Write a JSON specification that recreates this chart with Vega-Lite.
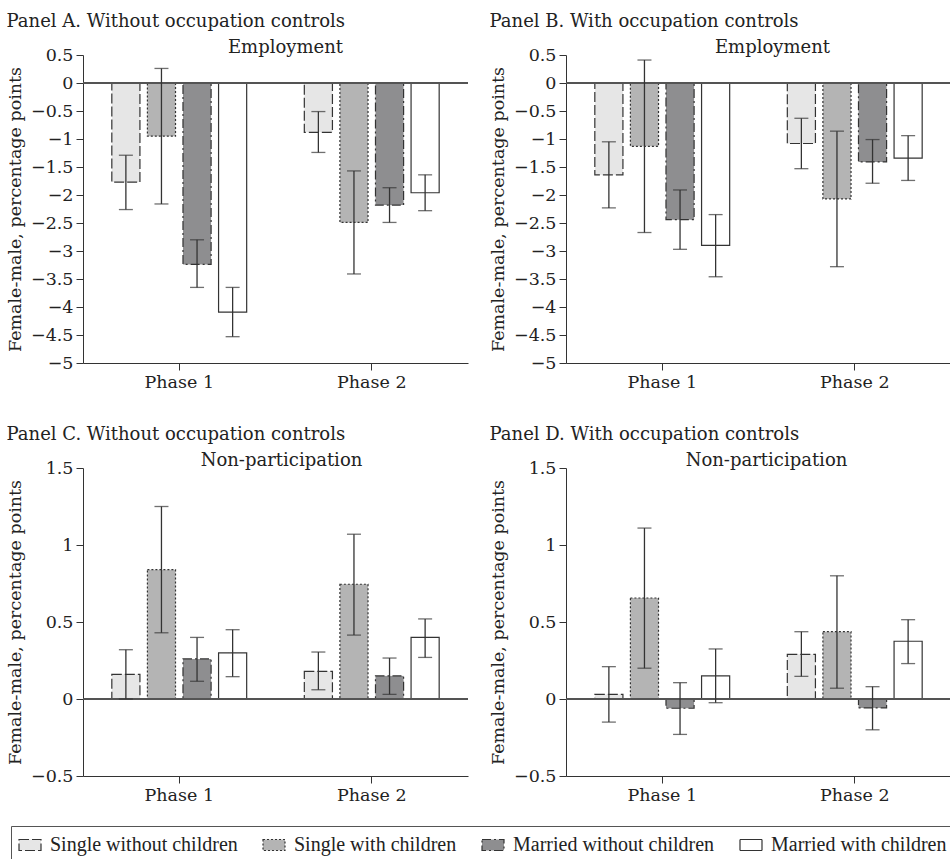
{
  "$schema": "https://vega.github.io/schema/vega-lite/v6.json",
  "padding": {"left": 6, "top": 13, "right": 0, "bottom": 0},
  "background": "white",
  "datasets": {
    "d": [
      {"panel": "A", "phase": "Phase 1", "group": "Single without children", "value": -1.77, "lo": -2.26, "hi": -1.29},
      {"panel": "A", "phase": "Phase 1", "group": "Single with children", "value": -0.95, "lo": -2.16, "hi": 0.26},
      {"panel": "A", "phase": "Phase 1", "group": "Married without children", "value": -3.24, "lo": -3.65, "hi": -2.8},
      {"panel": "A", "phase": "Phase 1", "group": "Married with children", "value": -4.09, "lo": -4.53, "hi": -3.65},
      {"panel": "A", "phase": "Phase 2", "group": "Single without children", "value": -0.88, "lo": -1.24, "hi": -0.51},
      {"panel": "A", "phase": "Phase 2", "group": "Single with children", "value": -2.49, "lo": -3.41, "hi": -1.57},
      {"panel": "A", "phase": "Phase 2", "group": "Married without children", "value": -2.18, "lo": -2.49, "hi": -1.87},
      {"panel": "A", "phase": "Phase 2", "group": "Married with children", "value": -1.96, "lo": -2.28, "hi": -1.64},
      {"panel": "B", "phase": "Phase 1", "group": "Single without children", "value": -1.64, "lo": -2.23, "hi": -1.05},
      {"panel": "B", "phase": "Phase 1", "group": "Single with children", "value": -1.13, "lo": -2.67, "hi": 0.41},
      {"panel": "B", "phase": "Phase 1", "group": "Married without children", "value": -2.44, "lo": -2.97, "hi": -1.91},
      {"panel": "B", "phase": "Phase 1", "group": "Married with children", "value": -2.9, "lo": -3.46, "hi": -2.35},
      {"panel": "B", "phase": "Phase 2", "group": "Single without children", "value": -1.08, "lo": -1.53, "hi": -0.63},
      {"panel": "B", "phase": "Phase 2", "group": "Single with children", "value": -2.07, "lo": -3.28, "hi": -0.86},
      {"panel": "B", "phase": "Phase 2", "group": "Married without children", "value": -1.41, "lo": -1.79, "hi": -1.01},
      {"panel": "B", "phase": "Phase 2", "group": "Married with children", "value": -1.34, "lo": -1.74, "hi": -0.94},
      {"panel": "C", "phase": "Phase 1", "group": "Single without children", "value": 0.16, "lo": 0.0, "hi": 0.32},
      {"panel": "C", "phase": "Phase 1", "group": "Single with children", "value": 0.84, "lo": 0.43, "hi": 1.25},
      {"panel": "C", "phase": "Phase 1", "group": "Married without children", "value": 0.26, "lo": 0.115, "hi": 0.4},
      {"panel": "C", "phase": "Phase 1", "group": "Married with children", "value": 0.3, "lo": 0.145, "hi": 0.45},
      {"panel": "C", "phase": "Phase 2", "group": "Single without children", "value": 0.18, "lo": 0.06, "hi": 0.305},
      {"panel": "C", "phase": "Phase 2", "group": "Single with children", "value": 0.745, "lo": 0.415, "hi": 1.07},
      {"panel": "C", "phase": "Phase 2", "group": "Married without children", "value": 0.15, "lo": 0.03, "hi": 0.266},
      {"panel": "C", "phase": "Phase 2", "group": "Married with children", "value": 0.4, "lo": 0.27, "hi": 0.52},
      {"panel": "D", "phase": "Phase 1", "group": "Single without children", "value": 0.03, "lo": -0.15, "hi": 0.21},
      {"panel": "D", "phase": "Phase 1", "group": "Single with children", "value": 0.656, "lo": 0.2, "hi": 1.11},
      {"panel": "D", "phase": "Phase 1", "group": "Married without children", "value": -0.06, "lo": -0.23, "hi": 0.106},
      {"panel": "D", "phase": "Phase 1", "group": "Married with children", "value": 0.15, "lo": -0.024, "hi": 0.325},
      {"panel": "D", "phase": "Phase 2", "group": "Single without children", "value": 0.29, "lo": 0.147, "hi": 0.437},
      {"panel": "D", "phase": "Phase 2", "group": "Single with children", "value": 0.437, "lo": 0.07, "hi": 0.8},
      {"panel": "D", "phase": "Phase 2", "group": "Married without children", "value": -0.058, "lo": -0.2, "hi": 0.08},
      {"panel": "D", "phase": "Phase 2", "group": "Married with children", "value": 0.375, "lo": 0.23, "hi": 0.515}
    ]
  },
  "resolve": {"scale": {"y": "independent", "x": "independent", "xOffset": "independent"}},
  "spacing": 35,
  "vconcat": [
    {
      "spacing": 20,
      "resolve": {"scale": {"y": "independent", "x": "independent", "xOffset": "independent"}},
      "hconcat": [
        {
          "title": {"text": "Panel A. Without occupation controls", "anchor": "start", "frame": "bounds", "offset": 8},
          "vconcat": [
            {
              "title": {"text": "Employment", "anchor": "middle", "dx": 10, "offset": -11},
              "width": 385, "height": 308,
              "data": {"name": "d"},
              "transform": [{"filter": "datum.panel === 'A'"}],
              "layer": [
                {
                  "mark": {"type": "bar", "stroke": "#333", "strokeWidth": 1.2},
                  "encoding": {
                    "x": {"field": "phase", "type": "nominal", "scale": {"paddingInner": 0, "paddingOuter": 0}, "axis": {"title": null}},
                    "xOffset": {"field": "group", "type": "nominal", "scale": {"domain": ["Single without children", "Single with children", "Married without children", "Married with children"], "paddingInner": 0.21, "paddingOuter": 0.81}},
                    "y": {"field": "value", "type": "quantitative", "title": "Female-male, percentage points", "scale": {"domain": [-5, 0.5], "nice": false, "zero": false}, "axis": {"values": [0.5, 0, -0.5, -1, -1.5, -2, -2.5, -3, -3.5, -4, -4.5, -5], "format": "~g"}},
                    "fill": {"field": "group", "type": "nominal", "scale": {"domain": ["Single without children", "Single with children", "Married without children", "Married with children"], "range": ["#e6e6e6", "#b4b4b4", "#8e8e90", "#ffffff"]}, "legend": {"title": null, "orient": "none", "legendX": -72, "legendY": 771, "encode": {"symbols": {"update": {"stroke": {"value": "#333"}, "strokeWidth": {"value": 1.2}}}}}},
                    "strokeDash": {"field": "group", "type": "nominal", "scale": {"domain": ["Single without children", "Single with children", "Married without children", "Married with children"], "range": [[10, 3], [2, 2], [9, 3, 2, 3], [1, 0]]}, "legend": {"title": null, "orient": "none", "legendX": -72, "legendY": 771}}
                  }
                },
                {"mark": {"type": "rule", "color": "#555", "strokeWidth": 1}, "encoding": {"y": {"datum": 0, "type": "quantitative", "title": "Female-male, percentage points", "axis": {"values": [0.5, 0, -0.5, -1, -1.5, -2, -2.5, -3, -3.5, -4, -4.5, -5], "format": "~g"}}}},
                {
                  "mark": {"type": "rule", "color": "#333", "strokeWidth": 1.3},
                  "encoding": {
                    "x": {"field": "phase", "type": "nominal"},
                    "xOffset": {"field": "group", "type": "nominal"},
                    "y": {"field": "lo", "type": "quantitative", "title": "Female-male, percentage points", "axis": {"values": [0.5, 0, -0.5, -1, -1.5, -2, -2.5, -3, -3.5, -4, -4.5, -5], "format": "~g"}},
                    "y2": {"field": "hi"}
                  }
                },
                {
                  "mark": {"type": "tick", "color": "#333", "size": 14, "thickness": 1.3},
                  "encoding": {
                    "x": {"field": "phase", "type": "nominal"},
                    "xOffset": {"field": "group", "type": "nominal"},
                    "y": {"field": "lo", "type": "quantitative", "title": "Female-male, percentage points", "axis": {"values": [0.5, 0, -0.5, -1, -1.5, -2, -2.5, -3, -3.5, -4, -4.5, -5], "format": "~g"}}
                  }
                },
                {
                  "mark": {"type": "tick", "color": "#333", "size": 14, "thickness": 1.3},
                  "encoding": {
                    "x": {"field": "phase", "type": "nominal"},
                    "xOffset": {"field": "group", "type": "nominal"},
                    "y": {"field": "hi", "type": "quantitative", "title": "Female-male, percentage points", "axis": {"values": [0.5, 0, -0.5, -1, -1.5, -2, -2.5, -3, -3.5, -4, -4.5, -5], "format": "~g"}}
                  }
                }
              ]
            }
          ]
        },
        {
          "title": {"text": "Panel B. With occupation controls", "anchor": "start", "frame": "bounds", "offset": 8},
          "vconcat": [
            {
              "title": {"text": "Employment", "anchor": "middle", "dx": 14, "offset": -11},
              "width": 385, "height": 308,
              "data": {"name": "d"},
              "transform": [{"filter": "datum.panel === 'B'"}],
              "layer": [
                {
                  "mark": {"type": "bar", "stroke": "#333", "strokeWidth": 1.2},
                  "encoding": {
                    "x": {"field": "phase", "type": "nominal", "scale": {"paddingInner": 0, "paddingOuter": 0}, "axis": {"title": null}},
                    "xOffset": {"field": "group", "type": "nominal", "scale": {"domain": ["Single without children", "Single with children", "Married without children", "Married with children"], "paddingInner": 0.21, "paddingOuter": 0.81}},
                    "y": {"field": "value", "type": "quantitative", "title": "Female-male, percentage points", "scale": {"domain": [-5, 0.5], "nice": false, "zero": false}, "axis": {"values": [0.5, 0, -0.5, -1, -1.5, -2, -2.5, -3, -3.5, -4, -4.5, -5], "format": "~g"}},
                    "fill": {"field": "group", "type": "nominal", "scale": {"domain": ["Single without children", "Single with children", "Married without children", "Married with children"], "range": ["#e6e6e6", "#b4b4b4", "#8e8e90", "#ffffff"]}, "legend": {"title": null, "orient": "none", "legendX": -72, "legendY": 771, "encode": {"symbols": {"update": {"stroke": {"value": "#333"}, "strokeWidth": {"value": 1.2}}}}}},
                    "strokeDash": {"field": "group", "type": "nominal", "scale": {"domain": ["Single without children", "Single with children", "Married without children", "Married with children"], "range": [[10, 3], [2, 2], [9, 3, 2, 3], [1, 0]]}, "legend": {"title": null, "orient": "none", "legendX": -72, "legendY": 771}}
                  }
                },
                {"mark": {"type": "rule", "color": "#555", "strokeWidth": 1}, "encoding": {"y": {"datum": 0, "type": "quantitative", "title": "Female-male, percentage points", "axis": {"values": [0.5, 0, -0.5, -1, -1.5, -2, -2.5, -3, -3.5, -4, -4.5, -5], "format": "~g"}}}},
                {
                  "mark": {"type": "rule", "color": "#333", "strokeWidth": 1.3},
                  "encoding": {
                    "x": {"field": "phase", "type": "nominal"},
                    "xOffset": {"field": "group", "type": "nominal"},
                    "y": {"field": "lo", "type": "quantitative", "title": "Female-male, percentage points", "axis": {"values": [0.5, 0, -0.5, -1, -1.5, -2, -2.5, -3, -3.5, -4, -4.5, -5], "format": "~g"}},
                    "y2": {"field": "hi"}
                  }
                },
                {
                  "mark": {"type": "tick", "color": "#333", "size": 14, "thickness": 1.3},
                  "encoding": {
                    "x": {"field": "phase", "type": "nominal"},
                    "xOffset": {"field": "group", "type": "nominal"},
                    "y": {"field": "lo", "type": "quantitative", "title": "Female-male, percentage points", "axis": {"values": [0.5, 0, -0.5, -1, -1.5, -2, -2.5, -3, -3.5, -4, -4.5, -5], "format": "~g"}}
                  }
                },
                {
                  "mark": {"type": "tick", "color": "#333", "size": 14, "thickness": 1.3},
                  "encoding": {
                    "x": {"field": "phase", "type": "nominal"},
                    "xOffset": {"field": "group", "type": "nominal"},
                    "y": {"field": "hi", "type": "quantitative", "title": "Female-male, percentage points", "axis": {"values": [0.5, 0, -0.5, -1, -1.5, -2, -2.5, -3, -3.5, -4, -4.5, -5], "format": "~g"}}
                  }
                }
              ]
            }
          ]
        }
      ]
    },
    {
      "spacing": 20,
      "resolve": {"scale": {"y": "independent", "x": "independent", "xOffset": "independent"}},
      "hconcat": [
        {
          "title": {"text": "Panel C. Without occupation controls", "anchor": "start", "frame": "bounds", "offset": 8},
          "vconcat": [
            {
              "title": {"text": "Non-participation", "anchor": "middle", "dx": 6, "offset": -11},
              "width": 385, "height": 308,
              "data": {"name": "d"},
              "transform": [{"filter": "datum.panel === 'C'"}],
              "layer": [
                {
                  "mark": {"type": "bar", "stroke": "#333", "strokeWidth": 1.2},
                  "encoding": {
                    "x": {"field": "phase", "type": "nominal", "scale": {"paddingInner": 0, "paddingOuter": 0}, "axis": {"title": null}},
                    "xOffset": {"field": "group", "type": "nominal", "scale": {"domain": ["Single without children", "Single with children", "Married without children", "Married with children"], "paddingInner": 0.21, "paddingOuter": 0.81}},
                    "y": {"field": "value", "type": "quantitative", "title": "Female-male, percentage points", "scale": {"domain": [-0.5, 1.5], "nice": false, "zero": false}, "axis": {"values": [1.5, 1, 0.5, 0, -0.5], "format": "~g"}},
                    "fill": {"field": "group", "type": "nominal", "scale": {"domain": ["Single without children", "Single with children", "Married without children", "Married with children"], "range": ["#e6e6e6", "#b4b4b4", "#8e8e90", "#ffffff"]}, "legend": {"title": null, "orient": "none", "legendX": -72, "legendY": 771, "encode": {"symbols": {"update": {"stroke": {"value": "#333"}, "strokeWidth": {"value": 1.2}}}}}},
                    "strokeDash": {"field": "group", "type": "nominal", "scale": {"domain": ["Single without children", "Single with children", "Married without children", "Married with children"], "range": [[10, 3], [2, 2], [9, 3, 2, 3], [1, 0]]}, "legend": {"title": null, "orient": "none", "legendX": -72, "legendY": 771}}
                  }
                },
                {"mark": {"type": "rule", "color": "#555", "strokeWidth": 1}, "encoding": {"y": {"datum": 0, "type": "quantitative", "title": "Female-male, percentage points", "axis": {"values": [1.5, 1, 0.5, 0, -0.5], "format": "~g"}}}},
                {
                  "mark": {"type": "rule", "color": "#333", "strokeWidth": 1.3},
                  "encoding": {
                    "x": {"field": "phase", "type": "nominal"},
                    "xOffset": {"field": "group", "type": "nominal"},
                    "y": {"field": "lo", "type": "quantitative", "title": "Female-male, percentage points", "axis": {"values": [1.5, 1, 0.5, 0, -0.5], "format": "~g"}},
                    "y2": {"field": "hi"}
                  }
                },
                {
                  "mark": {"type": "tick", "color": "#333", "size": 14, "thickness": 1.3},
                  "encoding": {
                    "x": {"field": "phase", "type": "nominal"},
                    "xOffset": {"field": "group", "type": "nominal"},
                    "y": {"field": "lo", "type": "quantitative", "title": "Female-male, percentage points", "axis": {"values": [1.5, 1, 0.5, 0, -0.5], "format": "~g"}}
                  }
                },
                {
                  "mark": {"type": "tick", "color": "#333", "size": 14, "thickness": 1.3},
                  "encoding": {
                    "x": {"field": "phase", "type": "nominal"},
                    "xOffset": {"field": "group", "type": "nominal"},
                    "y": {"field": "hi", "type": "quantitative", "title": "Female-male, percentage points", "axis": {"values": [1.5, 1, 0.5, 0, -0.5], "format": "~g"}}
                  }
                }
              ]
            }
          ]
        },
        {
          "title": {"text": "Panel D. With occupation controls", "anchor": "start", "frame": "bounds", "offset": 8},
          "vconcat": [
            {
              "title": {"text": "Non-participation", "anchor": "middle", "dx": 8, "offset": -11},
              "width": 385, "height": 308,
              "data": {"name": "d"},
              "transform": [{"filter": "datum.panel === 'D'"}],
              "layer": [
                {
                  "mark": {"type": "bar", "stroke": "#333", "strokeWidth": 1.2},
                  "encoding": {
                    "x": {"field": "phase", "type": "nominal", "scale": {"paddingInner": 0, "paddingOuter": 0}, "axis": {"title": null}},
                    "xOffset": {"field": "group", "type": "nominal", "scale": {"domain": ["Single without children", "Single with children", "Married without children", "Married with children"], "paddingInner": 0.21, "paddingOuter": 0.81}},
                    "y": {"field": "value", "type": "quantitative", "title": "Female-male, percentage points", "scale": {"domain": [-0.5, 1.5], "nice": false, "zero": false}, "axis": {"values": [1.5, 1, 0.5, 0, -0.5], "format": "~g"}},
                    "fill": {"field": "group", "type": "nominal", "scale": {"domain": ["Single without children", "Single with children", "Married without children", "Married with children"], "range": ["#e6e6e6", "#b4b4b4", "#8e8e90", "#ffffff"]}, "legend": {"title": null, "orient": "none", "legendX": -72, "legendY": 771, "encode": {"symbols": {"update": {"stroke": {"value": "#333"}, "strokeWidth": {"value": 1.2}}}}}},
                    "strokeDash": {"field": "group", "type": "nominal", "scale": {"domain": ["Single without children", "Single with children", "Married without children", "Married with children"], "range": [[10, 3], [2, 2], [9, 3, 2, 3], [1, 0]]}, "legend": {"title": null, "orient": "none", "legendX": -72, "legendY": 771}}
                  }
                },
                {"mark": {"type": "rule", "color": "#555", "strokeWidth": 1}, "encoding": {"y": {"datum": 0, "type": "quantitative", "title": "Female-male, percentage points", "axis": {"values": [1.5, 1, 0.5, 0, -0.5], "format": "~g"}}}},
                {
                  "mark": {"type": "rule", "color": "#333", "strokeWidth": 1.3},
                  "encoding": {
                    "x": {"field": "phase", "type": "nominal"},
                    "xOffset": {"field": "group", "type": "nominal"},
                    "y": {"field": "lo", "type": "quantitative", "title": "Female-male, percentage points", "axis": {"values": [1.5, 1, 0.5, 0, -0.5], "format": "~g"}},
                    "y2": {"field": "hi"}
                  }
                },
                {
                  "mark": {"type": "tick", "color": "#333", "size": 14, "thickness": 1.3},
                  "encoding": {
                    "x": {"field": "phase", "type": "nominal"},
                    "xOffset": {"field": "group", "type": "nominal"},
                    "y": {"field": "lo", "type": "quantitative", "title": "Female-male, percentage points", "axis": {"values": [1.5, 1, 0.5, 0, -0.5], "format": "~g"}}
                  }
                },
                {
                  "mark": {"type": "tick", "color": "#333", "size": 14, "thickness": 1.3},
                  "encoding": {
                    "x": {"field": "phase", "type": "nominal"},
                    "xOffset": {"field": "group", "type": "nominal"},
                    "y": {"field": "hi", "type": "quantitative", "title": "Female-male, percentage points", "axis": {"values": [1.5, 1, 0.5, 0, -0.5], "format": "~g"}}
                  }
                }
              ]
            }
          ]
        }
      ]
    }
  ],
  "config": {
    "font": "DejaVu Serif",
    "view": {"stroke": null},
    "title": {"font": "DejaVu Serif", "fontSize": 18, "fontWeight": "normal", "color": "#222"},
    "axis": {"labelFont": "DejaVu Serif", "labelFontSize": 17.5, "labelColor": "#222", "titleFont": "DejaVu Serif", "titleFontSize": 17.5, "titleFontWeight": "normal", "titleColor": "#222", "domainColor": "#333", "tickColor": "#333", "grid": false, "labelPadding": 3},
    "axisX": {"labelAngle": 0, "tickSize": 7},
    "axisY": {"tickSize": 7, "titlePadding": 6},
    "legend": {
      "direction": "horizontal", "gridAlign": "none", "labelLimit": 0,
      "labelFont": "Liberation Serif", "labelFontSize": 20, "labelColor": "#222",
      "symbolType": "M-1,-0.5L1,-0.5L1,0.5L-1,0.5Z", "symbolSize": 484, "symbolStrokeColor": "#333", "symbolStrokeWidth": 1.2,
      "strokeColor": "#555", "padding": 7, "columnPadding": 22, "labelOffset": 8
    }
  }
}
